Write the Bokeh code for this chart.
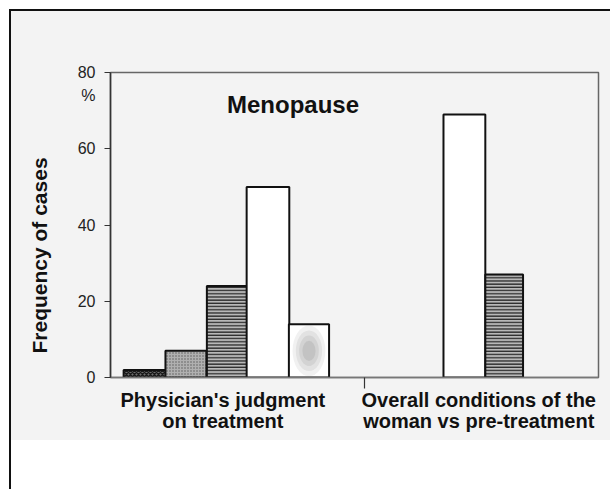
from bokeh.plotting import figure
from bokeh.models import ColumnDataSource, FixedTicker, Label, Title
from bokeh.embed import file_html
from bokeh.resources import INLINE

# ---- data ----
categories = ["Physician's judgment\non treatment", "Overall conditions of the\nwoman vs pre-treatment"]
physician_values = [2, 7, 24, 50, 14]
overall_values = [69, 27]
y_ticks = [0, 20, 40, 60, 80]
unit_label = "%"
title_text = "Menopause"
y_title = "Frequency of cases"

# ---- layout (positions / styles) ----
left_pos = [0.84, 1.84, 2.84, 3.84, 4.84]
left_w = [1.04, 1.0, 0.98, 1.04, 0.98]
left_fill = ["#6e6e6e", "#b0b0b0", "#b8b8b8", "#ffffff", "#ffffff"]
left_hatch = ["diagonal_cross", "dot", "horizontal_line", " ", " "]
left_hcol = ["#1a1a1a", "#5a5a5a", "#2a2a2a", "#ffffff", "#ffffff"]
left_hscale = [4, 3, 3.2, 10, 10]

right_pos = [8.63, 9.6]
right_w = [1.02, 0.92]
right_fill = ["#ffffff", "#b8b8b8"]
right_hatch = [" ", "horizontal_line"]
right_hcol = ["#ffffff", "#2a2a2a"]
right_hscale = [10, 3.2]

divider = 6.2
unit_pos = 74
label_pos = [2.74, 8.98]

p = figure(width=610, height=489, x_range=(0, 11.9), y_range=(0, 80),
           output_backend="svg", toolbar_location=None,
           min_border_left=110, min_border_right=12,
           min_border_top=72, min_border_bottom=112)

p.styles = {"background": ("linear-gradient(#111,#111) 9px 9px / 2px 480px no-repeat, "
                           "linear-gradient(#111,#111) 9px 9px / 601px 2px no-repeat, "
                           "linear-gradient(#f3f3f3,#f3f3f3) 11px 11px / 599px 429px no-repeat, "
                           "#ffffff")}
p.background_fill_alpha = 0
p.border_fill_alpha = 0
p.xgrid.visible = False
p.ygrid.visible = False
p.outline_line_color = "#666666"
p.outline_line_width = 1.5

src_l = ColumnDataSource(dict(x=left_pos, top=physician_values, w=left_w, fill=left_fill,
                              hatch=left_hatch, hcol=left_hcol, hs=left_hscale))
src_r = ColumnDataSource(dict(x=right_pos, top=overall_values, w=right_w, fill=right_fill,
                              hatch=right_hatch, hcol=right_hcol, hs=right_hscale))
for src in (src_l, src_r):
    p.vbar(x="x", top="top", bottom=0, width="w", source=src,
           fill_color="fill", hatch_pattern="hatch", hatch_color="hcol",
           hatch_scale="hs", hatch_weight=1.4,
           line_color="#111111", line_width=2)

# soft grey blob in the last physician bar
bx = left_pos[4]
bv = physician_values[4]
for k, a in zip([1.0, 0.8, 0.6, 0.4], [0.12, 0.14, 0.16, 0.2]):
    p.ellipse(x=[bx], y=[bv * 0.5], width=0.8 * k, height=bv * 0.95 * k,
              fill_color="#888888", fill_alpha=a, line_color=None)

# y axis (visible tick marks are minor ticks, labels are major)
ya = p.yaxis[0]
ya.ticker = FixedTicker(ticks=y_ticks + [unit_pos], minor_ticks=y_ticks)
ya.major_label_overrides = {unit_pos: unit_label}
ya.major_label_text_font = "Liberation Sans"
ya.major_label_text_font_size = "16px"
ya.major_label_text_color = "#222222"
ya.major_tick_out = 0
ya.major_tick_in = 0
ya.major_label_standoff = 9
ya.minor_tick_out = 6
ya.minor_tick_in = 0
ya.minor_tick_line_color = "#333333"
ya.minor_tick_line_width = 1.2
ya.axis_line_color = "#333333"
ya.axis_line_width = 1.5

# x axis
xa = p.xaxis[0]
xa.ticker = FixedTicker(ticks=label_pos, minor_ticks=[divider])
xa.major_label_overrides = {label_pos[i]: categories[i] for i in range(2)}
xa.major_tick_out = 0
xa.major_tick_in = 0
xa.minor_tick_out = 11
xa.minor_tick_in = 0
xa.minor_tick_line_color = "#333333"
xa.minor_tick_line_width = 1.2
xa.axis_line_color = "#777777"
xa.axis_line_width = 1.5
xa.major_label_text_font = "Liberation Sans"
xa.major_label_text_font_style = "bold"
xa.major_label_text_font_size = "20px"
xa.major_label_text_color = "#111111"
xa.major_label_text_line_height = 0.98
xa.major_label_standoff = 0

p.add_layout(Label(x=4.45, y=71.6, text=title_text, text_font="Liberation Sans",
                   text_font_style="bold", text_font_size="24px", text_color="#111111",
                   text_align="center", text_baseline="alphabetic"))

p.add_layout(Title(text=y_title, align="left", offset=24, standoff=47,
                   text_font="Liberation Sans", text_font_style="bold",
                   text_font_size="21px", text_color="#111111"), "left")

open("out.html", "w").write(file_html(p, INLINE))
